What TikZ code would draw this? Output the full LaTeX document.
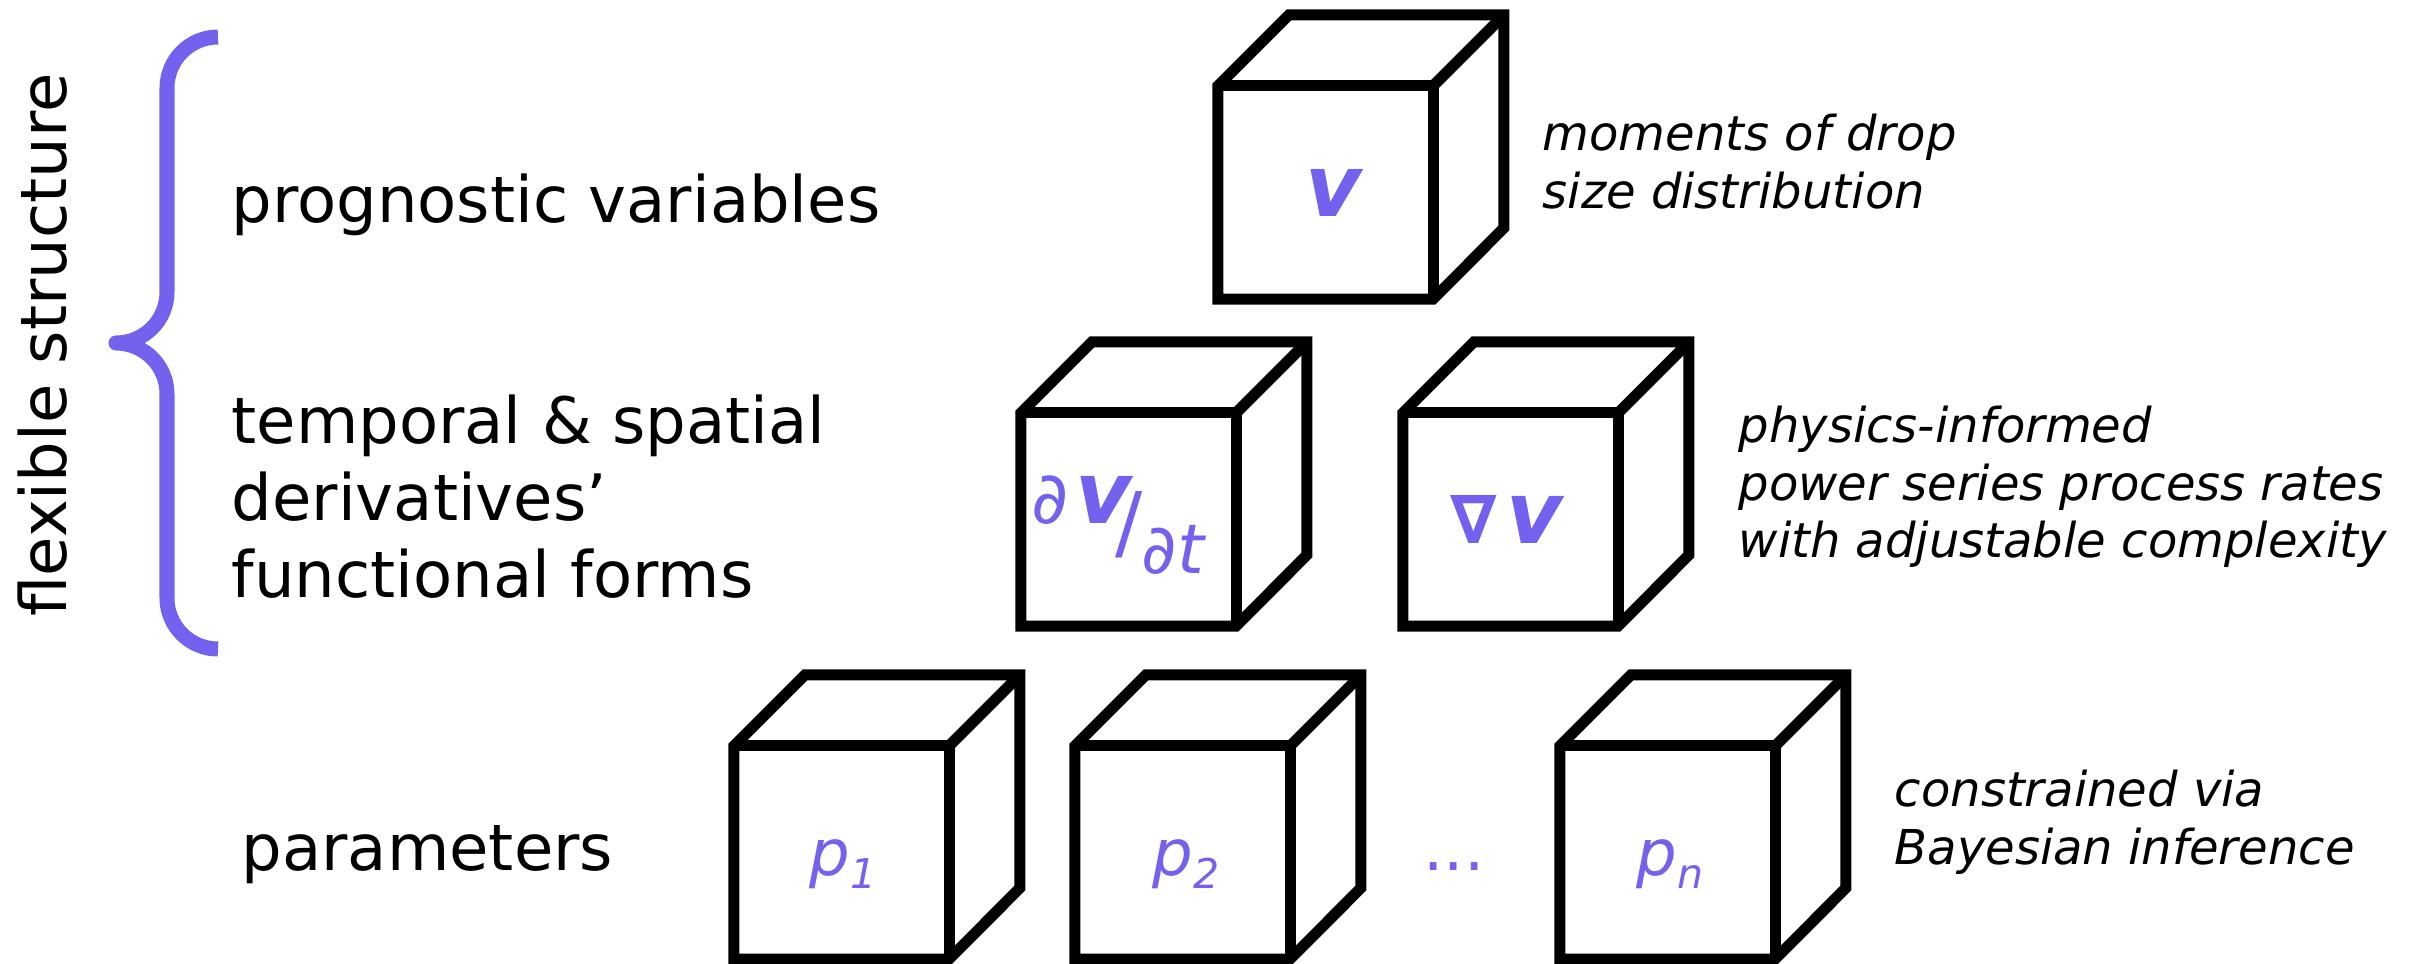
\documentclass[tikz,border=0pt]{standalone}
\usepackage{fontspec}
\setmainfont{DejaVu Sans}[ItalicFont={DejaVu Sans Oblique},BoldFont={DejaVu Sans Bold},BoldItalicFont={DejaVu Sans Bold Oblique}]
\definecolor{purp}{RGB}{116,98,238}
\newcommand\fsz[1]{\fontsize{#1pt}{#1pt}\selectfont}
\tikzset{
  face/.style={rectangle, minimum width=2.15cm, minimum height=2.13cm, inner sep=0pt, outer sep=0pt},
  edge/.style={line width=0.11cm, line join=miter, black},
  lbl/.style={anchor=base west, inner sep=0pt, font=\fsz{18.21}},
  note/.style={anchor=base west, inner sep=0pt, font=\fsz{13.66}\itshape},
  mth/.style={anchor=base, inner sep=0pt, text=purp},
  brace/.style={line width=0.15cm, draw=purp, line join=round, line cap=butt}
}
\newcommand\drawcube[2]{%
  \node[face] (#1) at (#2) {};
  \draw[edge] (#1.south west) -- (#1.north west) -- ++(71,-71) -- ++(215,0) -- ++(0,213) -- (#1.south east) -- cycle;
  \draw[edge] (#1.north west) -- (#1.north east) -- (#1.south east);
  \draw[edge] (#1.north east) -- ++(71,-71);
}
\begin{document}
\begin{tikzpicture}[x=0.01cm,y=-0.01cm]
\useasboundingbox (0,0) rectangle (2415,963);
% cubes
\drawcube{ctop}{1325.5,192.5}
\drawcube{cdt}{1128.5,519.5}
\drawcube{cgr}{1510.5,519.5}
\drawcube{cpa}{841.5,852.5}
\drawcube{cpb}{1182.5,852.5}
\drawcube{cpn}{1667.5,852.5}
% brace
\draw[brace] (218,37) .. controls (189.8,37) and (167,59.8) .. (167,88)
  -- (167,292) .. controls (167,320.2) and (144.2,343) .. (116,343)
  .. controls (144.2,343) and (167,365.8) .. (167,394)
  -- (167,598) .. controls (167,626.2) and (189.8,649) .. (218,649);
% left labels
\node[anchor=base, inner sep=0pt, font=\fsz{18.21}, rotate=90] (flex) at (67,345) {flexible structure};
\node[lbl] (prog) at (231,222) {prognostic variables};
\node[lbl] (tmp1) at (231,443) {temporal \& spatial};
\node[lbl] (tmp2) at (231,520) {derivatives’};
\node[lbl] (tmp3) at (231,597) {functional forms};
\node[lbl] (param) at (241,870) {parameters};
% right notes
\node[note] (m1) at (1542,150) {moments of drop};
\node[note] (m2) at (1542,208) {size distribution};
\node[note] (ph1) at (1738,442) {physics-informed};
\node[note] (ph2) at (1738,500) {power series process rates};
\node[note] (ph3) at (1738,557) {with adjustable complexity};
\node[note] (cb1) at (1894,806) {constrained via};
\node[note] (cb2) at (1894,864) {Bayesian inference};
% cube contents
\node[mth, font=\fsz{24.47}\bfseries\itshape] (vtop) at (1334,216) {v};
\node[mth, anchor=base west] (dvdt) at (1031,523) {\makebox[1.75cm][l]{%
  \rlap{\fsz{20.5}∂}%
  \rlap{\hspace{0.44cm}{\fsz{24.47}\bfseries\itshape v}}%
  \rlap{\hspace{0.84cm}\raisebox{-0.27cm}{\fsz{23}/}}%
  \rlap{\hspace{1.10cm}\raisebox{-0.50cm}{\fsz{19.5}∂\itshape t}}}};
\node[mth, font=\fsz{19}\bfseries] (nab) at (1474,543) {∇};
\node[mth, font=\fsz{24.47}\bfseries\itshape] (vnab) at (1535,543) {v};
\node[mth] (p1) at (843,875) {{\fsz{18.21}\itshape p}\raisebox{-0.13cm}{\fsz{11.67}\itshape 1}};
\node[mth] (p2) at (1186,875) {{\fsz{18.21}\itshape p}\raisebox{-0.13cm}{\fsz{11.67}\itshape 2}};
\node[mth] (pn) at (1670,875) {{\fsz{18.21}\itshape p}\raisebox{-0.13cm}{\fsz{11.67}\itshape n}};
\node[mth, font=\fsz{18.21}] (dots) at (1454,870) {...};
\end{tikzpicture}
\end{document}
